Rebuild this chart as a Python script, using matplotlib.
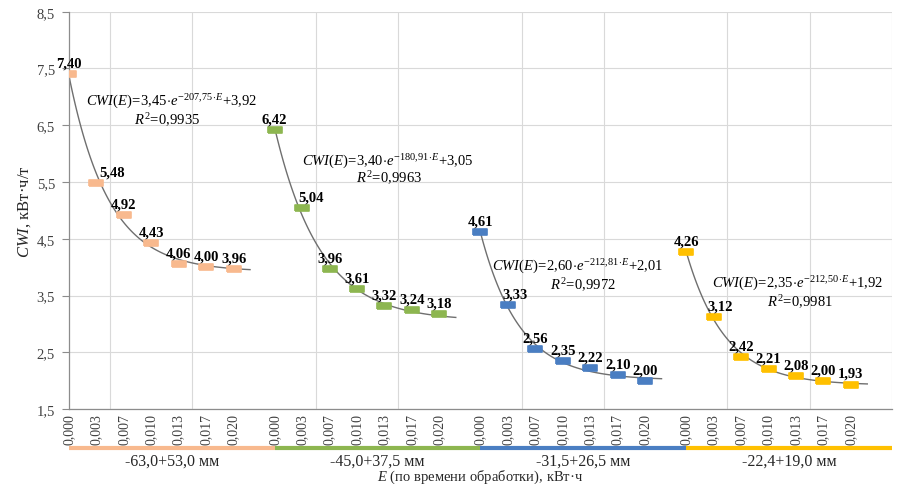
import numpy as np
import matplotlib.pyplot as plt
import matplotlib.transforms as mtransforms

plt.rcParams['font.family'] = ['Liberation Serif', 'DejaVu Serif']
plt.rcParams['mathtext.fontset'] = 'custom'
plt.rcParams['mathtext.rm'] = 'Liberation Serif'
plt.rcParams['mathtext.it'] = 'Liberation Serif:italic'
plt.rcParams['mathtext.bf'] = 'Liberation Serif:bold'

# Удельная энергия (по времени обработки), кВт·ч
E = [0.0, 0.00333, 0.00667, 0.0100, 0.01333, 0.01667, 0.0200]
E_labels = ["0,000", "0,003", "0,007", "0,010", "0,013", "0,017", "0,020"]

# Классы крупности
classes = ["-63,0+53,0 мм", "-45,0+37,5 мм", "-31,5+26,5 мм", "-22,4+19,0 мм"]
colors = ["#F8B98E", "#8DB650", "#4A7EC2", "#FFC000"]

# CWI, кВт·ч/т
cwi_1 = [7.40, 5.48, 4.92, 4.43, 4.06, 4.00, 3.96]
cwi_2 = [6.42, 5.04, 3.96, 3.61, 3.32, 3.24, 3.18]
cwi_3 = [4.61, 3.33, 2.56, 2.35, 2.22, 2.10, 2.00]
cwi_4 = [4.26, 3.12, 2.42, 2.21, 2.08, 2.00, 1.93]
cwi = [cwi_1, cwi_2, cwi_3, cwi_4]

# Аппроксимация CWI(E) = a*exp(-b*E) + c
fit_a = [3.45, 3.40, 2.60, 2.35]
fit_b = [207.75, 180.91, 212.81, 212.50]
fit_c = [3.92, 3.05, 2.01, 1.92]
fit_r2 = ["0,9935", "0,9963", "0,9972", "0,9981"]

group_step = 0.025
eq_pos = [(0.0125, 6.93), (0.0388, 5.87), (0.0618, 4.03), (0.0885, 3.73)]
r2_pos = [(0.0119, 6.61), (0.0389, 5.58), (0.0624, 3.70), (0.0888, 3.40)]
# сдвиг подписи второй точки вправо, чтобы не налезала на кривую
second_dx = [11, 6.5, 5, 5]

def fmt(v, n=2):
    return f"{v:.{n}f}".replace(".", "{,}")

fig = plt.figure(figsize=(8.97, 4.85), dpi=100)
ax = fig.add_axes([0.0769, 0.1546, 0.9175, 0.8192])

marker = [(-1, -0.4), (1, -0.4), (1, 0.4), (-1, 0.4), (-1, -0.4)]
xticks, xticklabels = [], []

for g in range(4):
    x = [g * group_step + e for e in E]
    xticks += x
    xticklabels += E_labels

    ee = np.linspace(0, 0.022, 120)
    ax.plot(g * group_step + ee, fit_a[g] * np.exp(-fit_b[g] * ee) + fit_c[g],
            color="#6f6f6f", lw=1.0, zorder=2)
    ax.plot(x, cwi[g], ls="none", marker=marker, ms=10.5,
            mfc=colors[g], mec=colors[g], mew=1.2, zorder=3)

    for i, (xi, yi) in enumerate(zip(x, cwi[g])):
        dx = second_dx[g] if i == 1 else 0
        ax.annotate(f"{yi:.2f}".replace(".", ","), (xi, yi), xytext=(dx, 8),
                    textcoords="offset points", ha="center", va="center",
                    fontsize=10.5, fontweight="bold", zorder=4)

    eq = (r"$\mathit{CWI}(\mathit{E})\!=\!" + fmt(fit_a[g]) + r"\!\cdot\!\mathit{e}^{-"
          + fmt(fit_b[g]) + r"\!\cdot\!\mathit{E}}\!+\!" + fmt(fit_c[g]) + "$")
    ax.text(*eq_pos[g], eq, ha="center", va="center", fontsize=10.5)
    ax.text(*r2_pos[g], r"$\mathit{R}^2\!=\!" + fit_r2[g].replace(",", "{,}") + "$",
            ha="center", va="center", fontsize=10.5)

ax.set_xlim(0, 4 * group_step)
ax.set_ylim(1.5, 8.5)
yt = np.arange(1.5, 8.51, 1.0)
ax.set_yticks(yt)
ax.set_yticklabels([f"{v:.1f}".replace(".", ",") for v in yt])
ax.set_xticks(xticks)
ax.set_xticklabels(xticklabels, rotation=90)
ax.set_xticks(np.arange(0, 0.1001, 0.005), minor=True)

ax.tick_params(axis="y", length=5, width=0.8, color="#8c8c8c", pad=5,
               labelsize=10.5, labelcolor="#404040")
ax.tick_params(axis="x", which="both", length=0, pad=3,
               labelsize=10, labelcolor="#404040")
ax.grid(axis="y", color="#d9d9d9", lw=0.8)
ax.grid(axis="x", which="minor", color="#d9d9d9", lw=0.8)
ax.grid(axis="x", which="major", visible=False)

for side in ["top", "right"]:
    ax.spines[side].set_visible(False)
for side in ["left", "bottom"]:
    ax.spines[side].set_color("#8c8c8c")
    ax.spines[side].set_linewidth(0.9)

# Полосы классов крупности под осью
trans = mtransforms.blended_transform_factory(ax.transData, ax.transAxes)
for g in range(4):
    x0, x1 = g * group_step, (g + 1) * group_step
    ax.plot([x0, x1], [-0.098, -0.098], color=colors[g], lw=3,
            transform=trans, clip_on=False, solid_capstyle="butt")
    ax.text((x0 + x1) / 2, -0.131, classes[g], transform=trans,
            ha="center", va="center", fontsize=11.5, color="#262626")

ax.text(0.5, -0.17, r"$\mathit{E}$ (по времени обработки), кВт·ч", transform=ax.transAxes,
        ha="center", va="center", fontsize=10.5, color="#262626")
ax.set_ylabel(r"$\mathit{CWI}$, кВт·ч/т", fontsize=12, color="#262626", labelpad=3)

fig.savefig("out.png", dpi=100)
